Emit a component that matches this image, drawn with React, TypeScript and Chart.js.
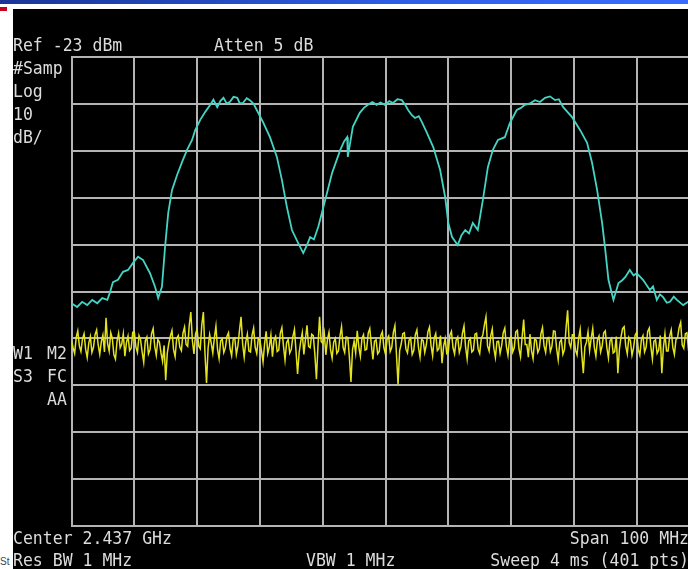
import React, { useEffect, useRef } from "react";
import { Chart, registerables } from "chart.js";

Chart.register(...registerables);

// Frequency axis (MHz): center 2437, span 100 -> 2387 .. 2487, 10 MHz / div
const freqStartMHz = 2387;
const freqStopMHz = 2487;
const freqDivMHz = 10;
// Amplitude axis: Ref -23 dBm, 10 dB / div, 10 divisions
const refLevelDbm = -23;
const dbPerDiv = 10;
const numDivs = 10;

// Cyan trace (Wi-Fi channels 1 / 6 / 11)
const cyanFreqMHz = [
  2387.0, 2387.9, 2388.7, 2389.5, 2390.3, 2391.1, 2391.9, 2392.7, 2393.1, 2393.6,
  2394.4, 2395.2, 2396.0, 2396.8, 2397.6, 2398.4, 2399.5, 2400.3, 2400.8, 2401.4,
  2401.9, 2402.4, 2403.0, 2403.8, 2404.6, 2405.4, 2406.2, 2406.7, 2407.5, 2408.3,
  2409.1, 2409.6, 2410.2, 2410.7, 2411.2, 2411.7, 2412.2, 2412.8, 2413.4, 2413.8,
  2414.3, 2414.9, 2415.4, 2416.0, 2416.5, 2417.5, 2418.6, 2419.7, 2420.5, 2421.3,
  2422.1, 2423.1, 2423.9, 2424.4, 2425.0, 2425.6, 2426.3, 2427.4, 2428.5, 2429.8,
  2430.4, 2430.9, 2431.0, 2431.8, 2432.9, 2433.6, 2434.2, 2434.9, 2435.6, 2436.2,
  2436.9, 2437.6, 2438.2, 2438.9, 2439.6, 2440.1, 2440.6, 2441.2, 2441.7, 2442.3,
  2442.8, 2443.6, 2444.6, 2445.7, 2446.5, 2447.0, 2447.6, 2448.5, 2449.1, 2449.7,
  2450.3, 2450.9, 2451.7, 2452.5, 2453.3, 2454.1, 2454.9, 2456.0, 2456.8, 2457.9,
  2458.5, 2459.2, 2460.0, 2460.8, 2461.6, 2462.4, 2463.2, 2464.0, 2464.6, 2465.3,
  2466.7, 2468.0, 2469.1, 2469.9, 2470.7, 2471.5, 2472.0, 2472.5, 2473.3, 2474.1,
  2474.7, 2475.2, 2475.9, 2476.5, 2477.0, 2478.0, 2479.1, 2479.6, 2480.2, 2480.7,
  2481.2, 2481.8, 2482.3, 2482.9, 2483.4, 2484.4, 2485.2, 2486.0, 2487.0,
];
const cyanLevelDbm = [
  -75.5, -76.3, -75.2, -75.9, -74.8, -75.5, -74.4, -74.8, -73.3, -71.0,
  -70.5, -68.8, -68.4, -66.9, -65.6, -66.3, -69.1, -72.0, -74.4, -72.0,
  -63.5, -56.3, -51.4, -48.2, -45.4, -42.8, -40.7, -38.6, -36.4, -34.7,
  -33.2, -32.1, -33.7, -32.4, -31.7, -32.9, -32.6, -31.5, -31.7, -32.9,
  -32.8, -31.8, -32.2, -33.0, -34.3, -36.9, -40.1, -44.3, -49.2, -55.0,
  -59.9, -62.7, -64.8, -63.4, -61.4, -61.9, -59.2, -53.5, -47.7, -42.8,
  -41.0, -40.1, -44.3, -37.9, -34.9, -33.8, -33.2, -32.6, -33.2, -32.7,
  -33.2, -32.4, -32.8, -32.0, -32.2, -33.1, -34.3, -35.4, -36.0, -35.6,
  -36.9, -39.2, -42.2, -47.1, -52.9, -58.4, -61.4, -63.1, -61.0, -59.9,
  -60.6, -58.4, -59.9, -53.5, -46.5, -42.8, -40.7, -40.1, -37.1, -34.3,
  -33.9, -33.2, -32.9, -32.2, -32.6, -31.7, -31.4, -32.2, -32.0, -33.7,
  -35.8, -38.6, -41.3, -45.6, -51.4, -58.4, -64.2, -70.5, -74.8, -71.2,
  -70.6, -69.9, -68.4, -69.6, -69.1, -70.5, -72.7, -71.9, -74.8, -73.6,
  -74.2, -75.4, -75.2, -74.1, -74.8, -75.9, -75.2, -74.6, -75.3,
];

// Yellow trace (noise floor), sampled every 0.25 MHz from 2387 MHz
const yellowStepMHz = 0.25;
const yellowLevelDbm = [
  -83.5, -85.0, -86.2, -82.8, -81.4, -84.6, -85.8, -83.1, -82.0, -85.3, -87.1, -84.0, -82.6, -86.0, -84.9, -82.2, -81.2, -84.4, -86.4, -83.7,
  -82.3, -85.9, -78.6, -84.1, -85.7, -81.8, -83.0, -86.5, -87.4, -83.6, -81.9, -85.0, -84.2, -82.0, -86.8, -83.9, -82.5, -85.6, -85.1, -81.7,
  -81.6, -84.8, -86.0, -82.4, -83.3, -85.9, -88.1, -83.5, -82.7, -86.3, -85.4, -82.0, -80.9, -84.7, -86.6, -83.2, -83.8, -86.1, -87.9, -84.5,
  -91.9, -86.2, -84.0, -82.5, -81.3, -85.4, -86.9, -83.0, -82.4, -84.9, -85.6, -81.9, -80.6, -84.3, -84.7, -80.2, -77.4, -83.5, -86.3, -82.1,
  -81.0, -84.6, -85.2, -80.1, -77.4, -86.0, -92.5, -85.1, -82.2, -84.0, -86.1, -82.9, -80.4, -85.3, -87.3, -83.5, -83.1, -86.0, -85.0, -82.6,
  -81.8, -85.2, -86.7, -83.1, -82.9, -86.4, -84.6, -81.3, -78.4, -84.2, -87.0, -83.8, -82.1, -85.7, -85.9, -82.3, -80.8, -84.9, -86.2, -83.0,
  -83.4, -85.6, -88.0, -84.1, -81.5, -86.2, -84.8, -82.3, -86.9, -83.4, -82.6, -85.8, -85.5, -81.9, -80.7, -84.6, -87.6, -83.9, -83.2, -86.1,
  -85.3, -82.6, -81.1, -85.7, -90.6, -86.0, -83.7, -81.8, -86.4, -83.2, -80.2, -84.7, -85.0, -82.1, -82.4, -86.3, -91.7, -84.5, -78.4, -83.6,
  -84.1, -81.9, -86.5, -83.3, -81.7, -85.4, -87.2, -83.8, -83.0, -86.2, -85.7, -82.5, -80.5, -84.9, -86.0, -82.7, -82.8, -87.0, -92.3, -85.4,
  -83.6, -86.1, -81.4, -84.8, -86.8, -83.0, -82.2, -85.5, -85.3, -81.9, -80.9, -84.4, -87.5, -83.6, -83.3, -86.3, -85.8, -82.4, -81.6, -85.0,
  -86.4, -83.1, -82.5, -85.8, -84.9, -81.7, -80.3, -86.5, -92.8, -85.6, -84.2, -82.0, -81.8, -85.3, -86.1, -83.4, -82.9, -86.4, -85.6, -82.2,
  -81.2, -84.9, -87.0, -83.2, -83.5, -86.0, -84.4, -81.6, -80.6, -84.5, -86.7, -83.0, -82.0, -85.6, -85.2, -82.4, -88.3, -84.7, -83.1, -86.2,
  -85.9, -82.3, -81.5, -85.0, -86.3, -83.4, -82.7, -86.0, -84.8, -81.9, -80.4, -84.8, -87.4, -83.5, -83.0, -85.9, -85.5, -82.1, -81.9, -85.3,
  -86.2, -83.0, -82.3, -80.1, -78.4, -84.6, -85.7, -82.5, -81.0, -85.1, -87.1, -83.7, -83.6, -86.2, -84.5, -81.8, -80.8, -84.7, -86.6, -83.1,
  -82.6, -85.9, -85.0, -81.6, -81.3, -85.2, -86.9, -82.8, -79.0, -84.3, -84.3, -87.0, -82.1, -85.6, -87.3, -83.2, -83.4, -86.0, -85.2, -82.0,
  -80.7, -84.6, -86.0, -82.9, -82.8, -85.8, -84.7, -81.4, -81.5, -85.2, -87.6, -83.8, -83.2, -86.4, -85.4, -80.8, -77.0, -83.9, -84.9, -82.2,
  -82.2, -85.5, -86.5, -83.0, -81.1, -86.3, -90.4, -84.8, -83.8, -81.6, -85.6, -83.0, -80.9, -84.9, -86.8, -83.3, -82.5, -85.9, -84.6, -81.8,
  -81.4, -85.0, -87.2, -83.5, -83.0, -86.1, -85.8, -82.6, -90.4, -85.3, -82.7, -80.9, -80.5, -84.6, -86.3, -82.8, -83.5, -86.6, -85.0, -82.3,
  -81.7, -85.4, -86.6, -83.2, -82.4, -85.9, -84.9, -81.5, -80.8, -84.7, -87.4, -83.6, -83.3, -86.2, -85.5, -82.4, -90.4, -85.0, -82.0, -85.7,
  -85.7, -82.5, -81.2, -84.9, -86.4, -83.3, -82.9, -80.7, -79.6, -84.4, -85.1, -82.0, -81.8, -85.5, -86.9, -83.4, -83.6, -86.3, -84.8, -82.7,
];

const topLeftLabels = ["#Samp", "Log", "10", "dB/"];

const W = 688;
const H = 569;
const CANVAS_W = 712;

export default function App() {
  const ref = useRef<HTMLCanvasElement | null>(null);

  useEffect(() => {
    const canvas = ref.current;
    if (!canvas) return;

    const cyanData = cyanFreqMHz.map((f, i) => ({ x: f, y: cyanLevelDbm[i] }));
    const yellowData = yellowLevelDbm.map((v, i) => ({
      x: freqStartMHz + i * yellowStepMHz,
      y: v,
    }));

    const textPlugin = {
      id: "saText",
      afterDraw(chart: any) {
        const ctx = chart.ctx as CanvasRenderingContext2D;
        ctx.save();
        ctx.fillStyle = "#dcdcdc";
        ctx.font = '16.5px "DejaVu Sans Mono", monospace';
        ctx.textBaseline = "alphabetic";
        const put = (t: string, x: number, y: number, align: CanvasTextAlign = "left") => {
          ctx.textAlign = align;
          ctx.save();
          ctx.translate(x, y);
          ctx.scale(1, 1.1);
          ctx.fillText(t, 0, 0);
          ctx.restore();
        };
        put(`Ref ${refLevelDbm} dBm`, 13, 51);
        put("Atten 5 dB", 214, 51);
        topLeftLabels.forEach((t, i) => put(t, 13, 74 + i * 23));
        put("W1", 13, 359);
        put("M2", 47, 359);
        put("S3", 13, 382);
        put("FC", 47, 382);
        put("AA", 47, 405);
        put("Center 2.437 GHz", 13, 544);
        put("Span 100 MHz", 689, 544, "right");
        put("Res BW 1 MHz", 13, 566);
        put("VBW 1 MHz", 306, 566);
        put("Sweep 4 ms (401 pts)", 689, 566, "right");
        ctx.restore();
      },
    };

    const gridColor = "#b4b4b4";

    const chart = new Chart(canvas, {
      type: "line",
      data: {
        datasets: [
          {
            label: "Trace 2",
            data: yellowData,
            borderColor: "#e4e41e",
            borderWidth: 1.5,
            pointRadius: 0,
            tension: 0,
          },
          {
            label: "Trace 1",
            data: cyanData,
            borderColor: "#44d4c4",
            borderWidth: 1.8,
            pointRadius: 0,
            tension: 0,
          },
        ],
      },
      options: {
        responsive: false,
        animation: false,
        events: [],
        layout: {
          padding: { left: 71.5, top: 57, right: CANVAS_W - 699.5, bottom: H - 526 },
        },
        plugins: {
          legend: { display: false },
          tooltip: { enabled: false },
        },
        scales: {
          x: {
            type: "linear",
            min: freqStartMHz,
            max: freqStopMHz,
            afterBuildTicks: (scale: any) => {
              const ticks = [];
              for (let v = freqStartMHz; v <= freqStopMHz + 0.001; v += freqDivMHz) ticks.push({ value: v });
              scale.ticks = ticks;
            },
            ticks: { display: false },
            grid: { color: gridColor, lineWidth: 2, drawTicks: false, tickLength: 0 },
            border: { display: true, color: gridColor, width: 2 },
          },
          y: {
            type: "linear",
            min: refLevelDbm - dbPerDiv * numDivs,
            max: refLevelDbm,
            afterBuildTicks: (scale: any) => {
              const ticks = [];
              for (let k = 0; k <= numDivs; k++) ticks.push({ value: refLevelDbm - dbPerDiv * numDivs + k * dbPerDiv });
              scale.ticks = ticks;
            },
            ticks: { display: false },
            grid: { color: gridColor, lineWidth: 2, drawTicks: false, tickLength: 0 },
            border: { display: true, color: gridColor, width: 2 },
          },
        },
      },
      plugins: [textPlugin],
    } as any);

    return () => chart.destroy();
  }, []);

  return (
    <div
      style={{
        position: "absolute",
        left: 0,
        top: 0,
        width: W,
        height: H,
        overflow: "hidden",
        background: "#ffffff",
      }}
    >
      <div
        style={{
          position: "absolute",
          left: 0,
          top: 0,
          width: W,
          height: 4,
          background: "linear-gradient(to right, #1a3596, #2f5fe8 60%, #3a6cff)",
        }}
      />
      <div style={{ position: "absolute", left: 0, top: 7, width: 7, height: 4, background: "#c4001c" }} />
      <div
        style={{
          position: "absolute",
          left: 0,
          top: 556,
          fontFamily: "Arial, 'Liberation Sans', sans-serif",
          fontSize: 10,
          color: "#444",
          lineHeight: "12px",
        }}
      >
        St
      </div>
      <div style={{ position: "absolute", left: 13, top: 9, width: W - 13, height: H - 9, background: "#000" }} />
      <canvas
        ref={ref}
        width={CANVAS_W}
        height={H}
        style={{ position: "absolute", left: 0, top: 0, width: CANVAS_W, height: H }}
      />
    </div>
  );
}
